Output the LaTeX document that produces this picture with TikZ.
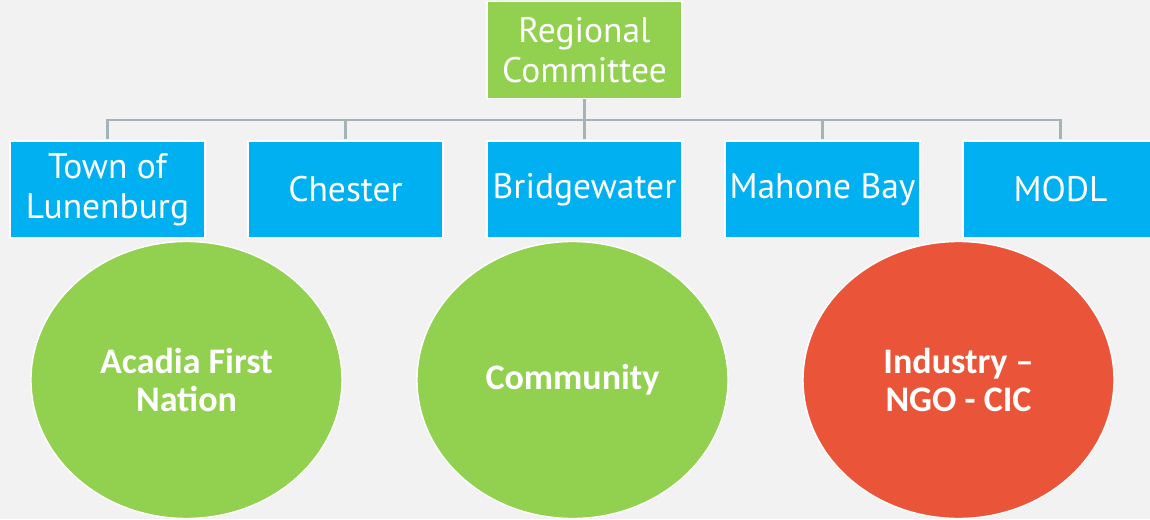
\documentclass[tikz,border=0pt]{standalone}
\usepackage{fontspec}
\setmainfont{PT Sans}
\newfontfamily\ovalfont{Carlito}
\usetikzlibrary{shapes.geometric}
\definecolor{bgpanel}{HTML}{F2F2F2}
\definecolor{leafgreen}{HTML}{92D050}
\definecolor{skyblue}{HTML}{00B0F0}
\definecolor{brickred}{HTML}{EA553A}
\definecolor{linkgray}{HTML}{A3B4B9}
\begin{document}
\begin{tikzpicture}[x=1pt,y=-1pt,
  orgbox/.style={draw=white,line width=1.6pt,minimum width=195pt,minimum height=97pt,
    inner sep=0pt,align=center,text=white,font=\fontsize{35.5}{40}\selectfont},
  topbox/.style={orgbox,fill=leafgreen},
  townbox/.style={orgbox,fill=skyblue},
  oval/.style={ellipse,draw=white,line width=1.4pt,minimum width=311pt,minimum height=277pt,
    inner sep=0pt,align=center,text=white,font=\ovalfont\bfseries\fontsize{36}{38}\selectfont},
  link/.style={draw=linkgray,line width=2.6pt}]
\fill[bgpanel] (0,0) rectangle (1150,519);
\useasboundingbox (0,0) rectangle (1150,519);
% committee at the top
\node[topbox] (rc) at (584.5,50) {Regional\\Committee};
% member towns
\node[townbox] (t1) at (107.5,189.5) {Town of\\Lunenburg};
\node[townbox] (t2) at (345.5,189.5) {Chester};
\node[townbox] (t3) at (584.5,189.5) {Bridgewater};
\node[townbox] (t4) at (822.5,189.5) {Mahone Bay};
\node[townbox] (t5) at (1060.5,189.5) {MODL};
% org-chart connectors
\coordinate (bus) at (584.5,120);
\draw[link] (rc.south) -- (bus);
\foreach \t in {t1,t2,t3,t4,t5}{
  \draw[link] (\t.north) ++(0,-1) |- (bus);
}
% partner groups
\node[oval,fill=leafgreen] (afn) at (186.5,380) {Acadia First\\Nation};
\node[oval,fill=leafgreen] (com) at (572.5,380) {\raisebox{-4pt}{Community}};
\node[oval,fill=brickred] (ind) at (958.5,380) {Industry –\\NGO - CIC};
\end{tikzpicture}
\end{document}
